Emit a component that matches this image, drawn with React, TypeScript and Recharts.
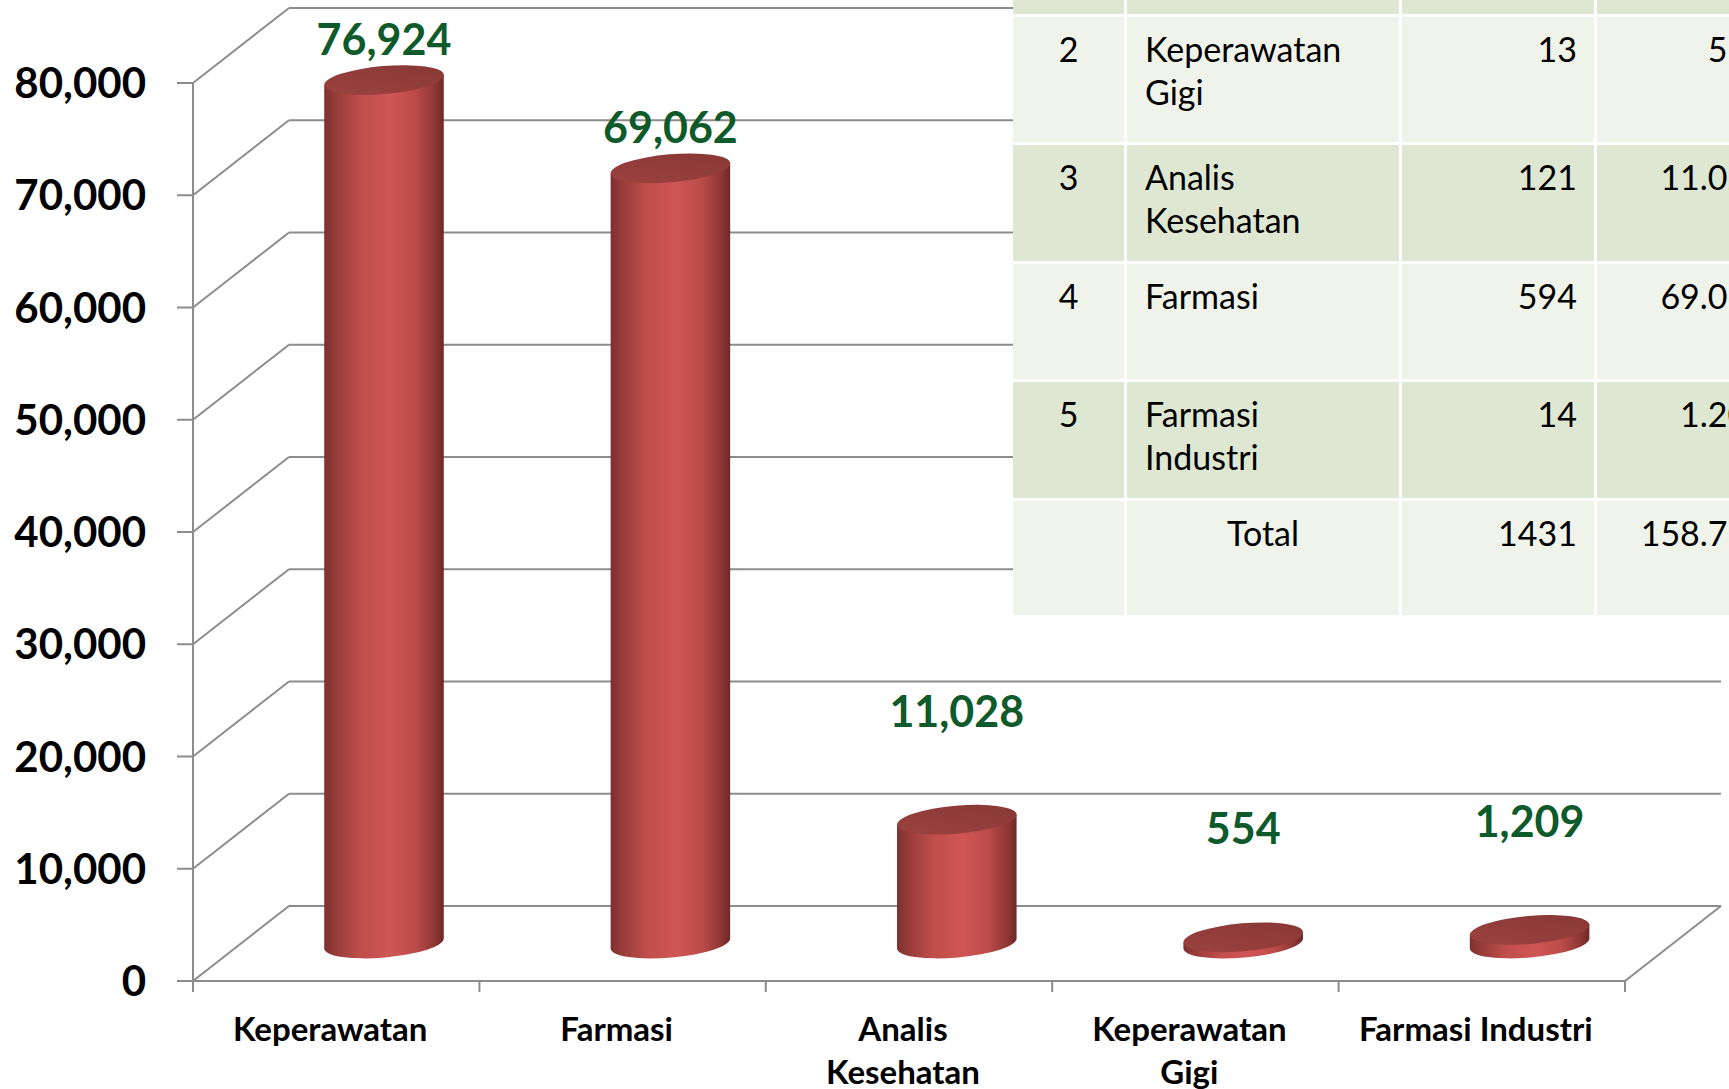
import React from "react";
import { BarChart, Bar, XAxis, YAxis, CartesianGrid, LabelList } from "recharts";

// chart data
const categories = ["Keperawatan", "Farmasi", "Analis\nKesehatan", "Keperawatan\nGigi", "Farmasi Industri"];
const students = [76924, 69062, 11028, 554, 1209];
const yTicks = [0, 10000, 20000, 30000, 40000, 50000, 60000, 70000, 80000];

// table in the top right corner (only the rows that show on the page)
const tableNo = ["2", "3", "4", "5", ""];
const tableProgram = ["Keperawatan\nGigi", "Analis\nKesehatan", "Farmasi", "Farmasi\nIndustri", "Total"];
const tableSchools = ["13", "121", "594", "14", "1431"];
const tableStudents = ["554", "11.028", "69.062", "1.209", "158.777"];

const data = categories.map((name, i) => ({ name, value: students[i] }));

const W = 1729;
const H = 1089;
const DEPTH_X = 96;
const DEPTH_Y = 75;
const TILT = 5;
const GRID = "#8c8c8c";
const FONT = "Lato, 'Open Sans', sans-serif";
const ROW_DARK = "#dee7d1";
const ROW_LIGHT = "#eff3ea";

const fmt = (v: number) => Number(v).toLocaleString("en-US");

const renderGridLine = (p: any) => {
  const { x1, y1, x2, index } = p;
  const bx = x1 + DEPTH_X;
  const by = y1 - DEPTH_Y;
  return (
    <g key={`grid-${index}`}>
      <line x1={x1} y1={y1} x2={bx} y2={by} stroke={GRID} strokeWidth={2} />
      <line x1={bx} y1={by} x2={x2 + DEPTH_X} y2={by} stroke={GRID} strokeWidth={2} />
      {index === 0 && <line x1={x2} y1={y1} x2={x2 + DEPTH_X} y2={by} stroke={GRID} strokeWidth={2} />}
    </g>
  );
};

const Cylinder = (p: any) => {
  const { x, y, width, height } = p;
  if (x == null || isNaN(x)) return null;
  const id = p.index ?? Math.round(x);
  const cx = x + width / 2 + DEPTH_X / 2;
  const rx = width / 2;
  const ry = 14;
  const top = y - DEPTH_Y / 2;
  const bot = y + height - DEPTH_Y / 2;
  const ex = rx * Math.cos((TILT * Math.PI) / 180);
  const ey = rx * Math.sin((TILT * Math.PI) / 180);
  const body = `M${cx - ex},${top + ey} L${cx - ex},${bot + ey} A${rx},${ry} ${-TILT} 0 0 ${cx + ex},${bot - ey} L${cx + ex},${top - ey} Z`;
  return (
    <g>
      <defs>
        <linearGradient id={`cyl-body-${id}`} x1="0" y1="0" x2="1" y2="0">
          <stop offset="0" stopColor="#7d302f" />
          <stop offset="0.08" stopColor="#933a38" />
          <stop offset="0.3" stopColor="#bf4e4b" />
          <stop offset="0.55" stopColor="#cf5654" />
          <stop offset="0.76" stopColor="#bc4c49" />
          <stop offset="0.92" stopColor="#8f3735" />
          <stop offset="1" stopColor="#6e2828" />
        </linearGradient>
        <linearGradient id={`cyl-cap-${id}`} x1="0" y1="1" x2="1" y2="0">
          <stop offset="0" stopColor="#9c4341" />
          <stop offset="1" stopColor="#873735" />
        </linearGradient>
      </defs>
      <path d={body} fill={`url(#cyl-body-${id})`} />
      <ellipse
        cx={cx}
        cy={top}
        rx={rx}
        ry={ry}
        transform={`rotate(${-TILT} ${cx} ${top})`}
        fill={`url(#cyl-cap-${id})`}
      />
    </g>
  );
};

const ValueLabel = (p: any) => {
  const vb = p.viewBox && p.viewBox.width != null ? p.viewBox : p;
  const { x, y, width, height } = vb;
  if (x == null) return null;
  const cx = x + width / 2 + DEPTH_X / 2;
  const top = y - DEPTH_Y / 2;
  // short bars carry their label higher up
  const lift = height > 200 ? 40 : 108;
  return (
    <text x={cx} y={top - lift + 15} textAnchor="middle" fill="#0f5a2b" fontFamily={FONT} fontWeight={700} fontSize={43}>
      {fmt(p.value)}
    </text>
  );
};

const ValueTick = (p: any) => (
  <text x={p.x} y={p.y + 15} textAnchor="end" fill="#000" fontFamily={FONT} fontWeight={700} fontSize={42}>
    {fmt(p.payload.value)}
  </text>
);

const CategoryTick = (p: any) => {
  const { x, y, payload, index } = p;
  const half = typeof payload.offset === "number" && payload.offset > 0 ? payload.offset : 143.2;
  const lines = String(payload.value).split("\n");
  return (
    <g>
      <line x1={x - half} y1={y} x2={x - half} y2={y + 11} stroke={GRID} strokeWidth={2} />
      {index === categories.length - 1 && (
        <line x1={x + half} y1={y} x2={x + half} y2={y + 11} stroke={GRID} strokeWidth={2} />
      )}
      <text textAnchor="middle" fill="#000" fontFamily={FONT} fontWeight={700} fontSize={33}>
        {lines.map((line, i) => (
          <tspan key={i} x={x - 6} y={y + 60 + i * 43}>
            {line}
          </tspan>
        ))}
      </text>
    </g>
  );
};

function InfoTable() {
  const last = tableNo.length - 1;
  const strip: React.CSSProperties = { background: ROW_DARK };
  return (
    <div
      style={{
        position: "absolute",
        left: 1013,
        top: 0,
        display: "grid",
        gridTemplateColumns: "111px 272px 192px 190px",
        gridTemplateRows: "14px 125px 116px 115px 116px 114px",
        gap: 3,
        background: "#fff",
        fontFamily: FONT,
        fontSize: 34,
        lineHeight: "43px",
        color: "#000",
      }}
    >
      {/* bottom edge of the row above, cut by the page */}
      <div style={strip} />
      <div style={strip} />
      <div style={strip} />
      <div style={strip} />
      {tableNo.map((no, r) => {
        const cell: React.CSSProperties = {
          background: r % 2 === 0 ? ROW_LIGHT : ROW_DARK,
          paddingTop: 10,
          boxSizing: "border-box",
          whiteSpace: "pre-line",
        };
        return (
          <React.Fragment key={r}>
            <div style={{ ...cell, textAlign: "center" }}>{no}</div>
            <div style={{ ...cell, paddingLeft: r === last ? 0 : 18, textAlign: r === last ? "center" : "left" }}>
              {tableProgram[r]}
            </div>
            <div style={{ ...cell, textAlign: "right", paddingRight: 17 }}>{tableSchools[r]}</div>
            <div style={{ ...cell, textAlign: "right", paddingRight: 20 }}>{tableStudents[r]}</div>
          </React.Fragment>
        );
      })}
    </div>
  );
}

export default function App() {
  return (
    <div style={{ position: "absolute", left: 0, top: 0, width: W, height: H, overflow: "hidden", background: "#fff" }}>
      <BarChart width={W} height={H} data={data} margin={{ top: 83, right: 104, bottom: 0, left: 0 }}>
        <CartesianGrid vertical={false} horizontal={renderGridLine} />
        <XAxis
          dataKey="name"
          height={108}
          axisLine={{ stroke: GRID, strokeWidth: 2 }}
          tickLine={false}
          tickSize={0}
          tickMargin={0}
          interval={0}
          tick={<CategoryTick />}
        />
        <YAxis
          type="number"
          width={193}
          domain={[0, 80000]}
          ticks={yTicks}
          interval={0}
          axisLine={{ stroke: GRID, strokeWidth: 2 }}
          tickLine={{ stroke: GRID, strokeWidth: 2 }}
          tickSize={16}
          tickMargin={31}
          tick={<ValueTick />}
        />
        <Bar dataKey="value" barSize={120} shape={(props: any) => <Cylinder {...props} />} isAnimationActive={false}>
          <LabelList dataKey="value" content={ValueLabel} />
        </Bar>
      </BarChart>
      <InfoTable />
    </div>
  );
}
